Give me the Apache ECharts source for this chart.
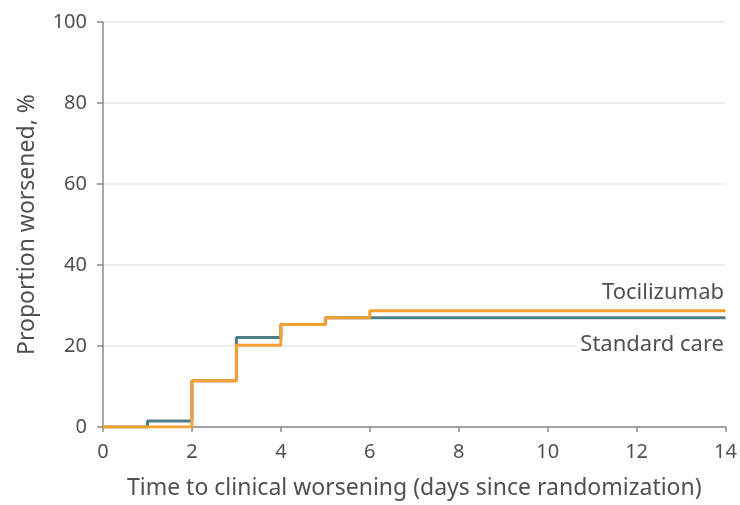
<!DOCTYPE html>
<html>
<head>
<meta charset="utf-8">
<script src="https://cdn.jsdelivr.net/npm/echarts@6/dist/echarts.min.js"></script>
<style>
html,body{margin:0;padding:0;background:#fff;}
#chart{width:740px;height:505px;}
</style>
</head>
<body>
<div id="chart"></div>
<script>
// Step-change days and cumulative proportion worsened (%)
var tociDays = [0, 2, 3, 4, 5, 6, 14];
var tociValues = [0, 11.4, 20.2, 25.3, 27.0, 28.7, 28.7];
var stdDays = [0, 1, 2, 3, 4, 5, 6, 14];
var stdValues = [0, 1.5, 11.4, 22.1, 25.3, 27.0, 27.0, 27.0];
var xTicks = [0, 2, 4, 6, 8, 10, 12, 14];
var yTicks = [0, 20, 40, 60, 80, 100];
var seriesNames = ['Tocilizumab', 'Standard care'];

function pairs(xs, ys) { return xs.map(function (x, i) { return [x, ys[i]]; }); }

var FONT = 'Noto Sans';
var TXT = '#505050';
var chart = echarts.init(document.getElementById('chart'), null, {renderer: 'canvas'});
chart.setOption({
  animation: false,
  backgroundColor: '#ffffff',
  grid: {left: 103, right: 14, top: 22, bottom: 76},
  xAxis: {
    type: 'value', min: 0, max: 14, interval: 2,
    name: 'Time to clinical worsening (days since randomization)',
    nameLocation: 'middle', nameGap: 50,
    nameTextStyle: {fontFamily: FONT, fontSize: 23, color: TXT},
    axisLine: {show: true, lineStyle: {color: '#8a8a8a', width: 1.5}},
    axisTick: {show: true, length: 5, lineStyle: {color: '#8a8a8a', width: 1.5}},
    axisLabel: {margin: 15, fontFamily: FONT, fontSize: 20, color: TXT,
      formatter: function (v) { return xTicks.indexOf(v) >= 0 ? String(v) : ''; }},
    splitLine: {show: false}
  },
  yAxis: {
    type: 'value', min: 0, max: 100, interval: 20,
    name: 'Proportion worsened, %',
    nameLocation: 'middle', nameGap: 64,
    nameTextStyle: {fontFamily: FONT, fontSize: 23, color: TXT},
    axisLine: {show: true, lineStyle: {color: '#8a8a8a', width: 1.5}},
    axisTick: {show: true, length: 6, lineStyle: {color: '#8a8a8a', width: 1.5}},
    axisLabel: {margin: 16, fontFamily: FONT, fontSize: 20, color: TXT,
      formatter: function (v) { return yTicks.indexOf(v) >= 0 ? String(v) : ''; }},
    splitLine: {show: true, lineStyle: {color: '#e8e8e8', width: 1.5}}
  },
  series: [
    {
      name: seriesNames[1], type: 'line', step: 'end', showSymbol: false,
      data: pairs(stdDays, stdValues),
      lineStyle: {color: '#4f7d85', width: 3}, z: 2
    },
    {
      name: seriesNames[0], type: 'line', step: 'end', showSymbol: false,
      data: pairs(tociDays, tociValues),
      lineStyle: {color: '#f5a033', width: 3}, z: 3
    }
  ],
  graphic: [
    {type: 'text', right: 12, top: 282, z: 100,
      style: {text: seriesNames[0], font: '22px "' + FONT + '"', fill: TXT,
        backgroundColor: '#ffffff', padding: [0, 4, 0, 4]}},
    {type: 'text', right: 12, top: 334, z: 100,
      style: {text: seriesNames[1], font: '22px "' + FONT + '"', fill: TXT,
        backgroundColor: '#ffffff', padding: [0, 4, 0, 4]}}
  ]
});
</script>
</body>
</html>
